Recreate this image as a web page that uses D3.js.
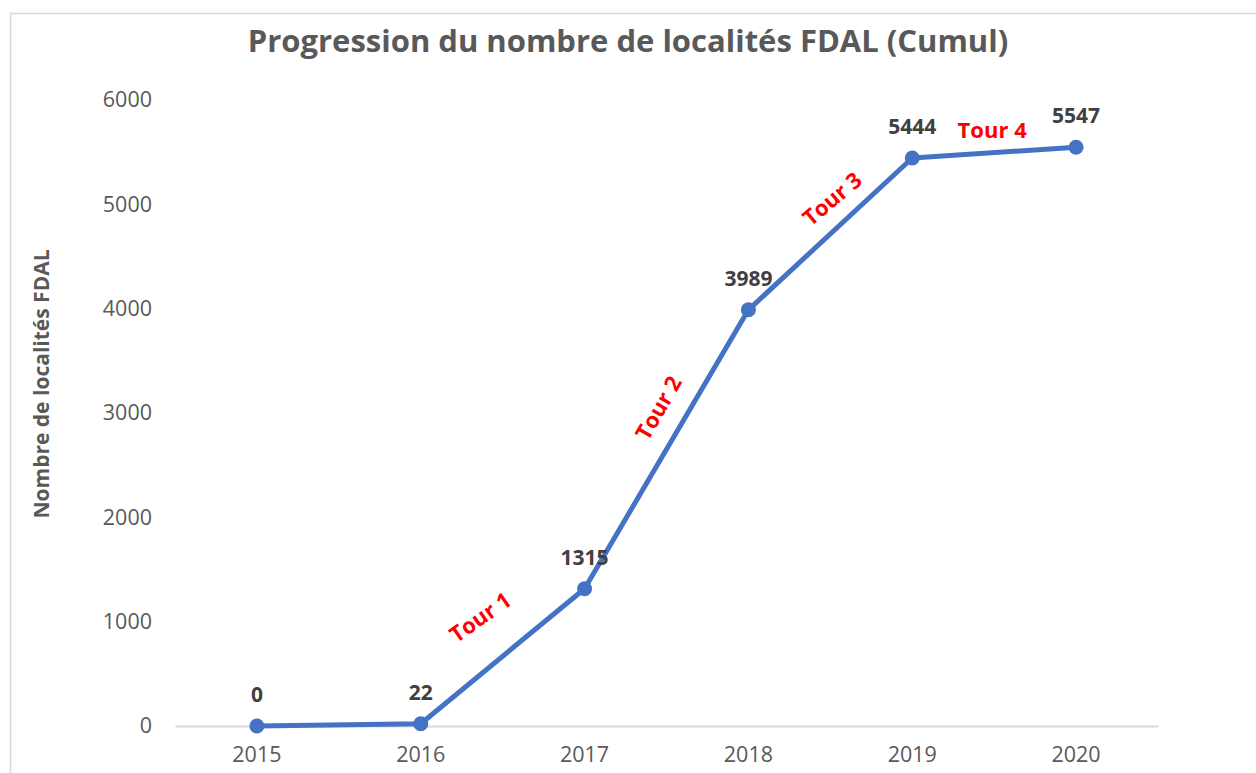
<!DOCTYPE html>
<html><head><meta charset="utf-8">
<script src="https://cdn.jsdelivr.net/npm/d3@7"></script>
<style>
html,body{margin:0;padding:0;background:#fff;}
svg{display:block;font-family:"Open Sans",sans-serif;}
</style></head>
<body><svg id="c" width="1256" height="773"></svg>
<script>
const years = ["2015","2016","2017","2018","2019","2020"];
const values = [0, 22, 1315, 3989, 5444, 5547];
const yTicks = [0,1000,2000,3000,4000,5000,6000];
const tourLabels = ["Tour 1","Tour 2","Tour 3","Tour 4"];
const titleText = "Progression du nombre de localités FDAL (Cumul)";
const yAxisTitle = "Nombre de localités FDAL";

const svg = d3.select("#c");
// chart border
svg.append("rect").attr("x",10.5).attr("y",13.5).attr("width",1300).attr("height",800)
  .attr("fill","none").attr("stroke","#d9d9d9").attr("stroke-width",1.5);

const x = d3.scaleBand().domain(years).range([175,1158]);
const y = d3.scaleLinear().domain([0,6000]).range([726,100]);
const cx = d => x(d) + x.bandwidth()/2;

svg.append("text").attr("x",628).attr("y",52).attr("text-anchor","middle")
  .attr("font-size",31).attr("font-weight","bold").attr("fill","#595959").text(titleText);

// y-axis
const yAx = svg.append("g").attr("transform","translate(175,0)")
  .call(d3.axisLeft(y).tickValues(yTicks).tickSize(0).tickPadding(23).tickFormat(d3.format("d")));
yAx.select(".domain").remove();
yAx.selectAll("text").attr("font-size",21.5).attr("fill","#595959").attr("font-family","Open Sans");

// x-axis
const xAx = svg.append("g").attr("transform","translate(0,726)")
  .call(d3.axisBottom(x).tickSize(0).tickPadding(21));
xAx.select(".domain").attr("stroke","#d9d9d9").attr("stroke-width",2);
xAx.selectAll("text").attr("font-size",21.5).attr("fill","#595959").attr("font-family","Open Sans");

svg.append("text").attr("transform","translate(49,384) rotate(-90)").attr("text-anchor","middle")
  .attr("font-size",21).attr("font-weight","bold").attr("fill","#595959").text(yAxisTitle);

const data = years.map((yr,i)=>({yr, v: values[i]}));
svg.append("path").datum(data)
  .attr("d", d3.line().x(d=>cx(d.yr)).y(d=>y(d.v)))
  .attr("fill","none").attr("stroke","#4472C4").attr("stroke-width",5).attr("stroke-linejoin","round");
svg.selectAll("circle.pt").data(data).enter().append("circle")
  .attr("cx",d=>cx(d.yr)).attr("cy",d=>y(d.v)).attr("r",7.5).attr("fill","#4472C4");
svg.selectAll("text.dl").data(data).enter().append("text")
  .attr("x",d=>cx(d.yr)).attr("y",d=>y(d.v)-24).attr("text-anchor","middle")
  .attr("font-size",21).attr("font-weight","bold").attr("fill","#404040").text(d=>String(d.v));

// tour annotations along segments
const offs = [[-23,-40],[-9,-42],[1,-36],[-2,-24]];
const angs = [-35,-60,-40,0];
tourLabels.forEach((t,i)=>{
  const a = data[i+1], b = data[i+2];
  const mx = (cx(a.yr)+cx(b.yr))/2 + offs[i][0];
  const my = (y(a.v)+y(b.v))/2 + offs[i][1];
  svg.append("text").attr("transform",`translate(${mx},${my}) rotate(${angs[i]})`)
    .attr("text-anchor","middle").attr("dominant-baseline","central")
    .attr("font-size",22).attr("font-weight","bold").attr("fill","#ff0000").text(t);
});
</script></body></html>
